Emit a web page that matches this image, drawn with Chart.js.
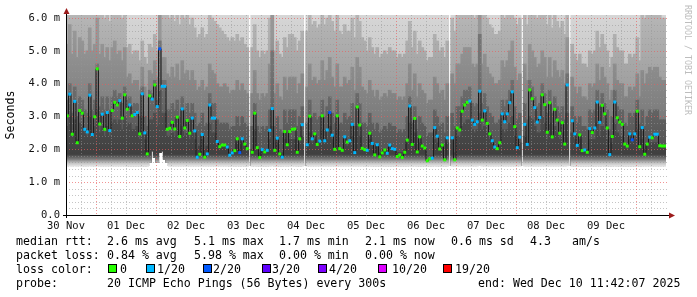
<!DOCTYPE html>
<html>
<head>
<meta charset="utf-8">
<script src="https://cdn.jsdelivr.net/npm/chart.js@4.4.0/dist/chart.umd.min.js"></script>
<style>
    html, body { margin: 0; padding: 0; background: #fff; }
    #wrap { width: 697px; height: 297px; }
</style>
</head>
<body>
<div id="wrap"><canvas id="smoke" width="697" height="297"></canvas></div>
<script>
// x = hours since 30 Nov 12:00, one column per hour (240 columns)
const dayLabels = ['30 Nov', '01 Dec', '02 Dec', '03 Dec', '04 Dec', '05 Dec', '06 Dec', '07 Dec', '08 Dec', '09 Dec'];
const yTicks = [0, 1, 2, 3, 4, 5, 6];

// median rtt (ms), null = no data
const medianRtt = [
    3.02,3.68,2.46,3.46,2.20,3.18,3.10,2.61,2.53,3.65,
    2.45,2.99,4.45,2.77,3.07,2.61,3.12,2.57,3.18,3.43,
    3.35,3.48,2.95,3.66,3.22,3.35,3.02,3.06,3.12,2.47,
    3.69,2.50,1.86,3.63,3.53,3.96,3.30,5.06,3.92,3.92,
    2.61,2.64,2.82,2.62,2.98,2.39,3.23,2.65,2.88,2.49,
    2.95,2.56,1.76,1.85,2.45,1.76,1.86,3.35,2.95,2.95,
    2.24,2.08,2.13,2.13,2.07,1.82,1.89,1.96,2.32,1.90,
    2.32,2.16,2.02,null,1.91,3.10,2.05,1.75,1.99,1.92,
    1.97,2.58,3.24,1.97,2.34,1.86,1.76,2.54,2.14,2.54,
    2.61,2.62,1.91,2.32,2.75,null,2.14,3.01,2.32,2.47,
    2.15,2.25,3.02,2.26,2.59,3.12,2.43,2.00,3.02,2.02,
    1.97,2.38,2.22,2.26,2.76,1.90,3.29,2.74,2.03,1.99,
    1.97,2.49,2.18,1.83,2.14,1.77,1.89,1.98,1.88,2.13,
    2.02,2.00,1.78,1.83,1.75,1.91,2.28,3.32,2.15,2.94,
    1.92,2.38,2.10,2.04,1.65,1.71,1.73,2.66,2.40,2.01,
    2.13,1.68,2.35,null,2.35,1.68,2.65,2.59,3.16,3.35,
    3.43,3.47,2.89,2.76,2.84,3.77,2.89,3.17,2.79,2.47,
    2.26,2.07,2.02,2.20,3.08,2.84,3.08,3.42,3.75,2.69,
    2.05,2.37,null,2.76,2.15,3.81,3.54,3.27,2.83,2.97,
    3.66,3.36,2.52,3.42,2.38,3.22,2.89,2.49,2.81,2.16,
    3.96,null,2.87,2.47,2.12,2.44,1.96,1.98,1.91,2.63,
    2.51,2.65,3.44,2.82,3.34,3.08,2.65,1.84,2.39,3.44,
    2.96,2.83,2.76,2.16,2.10,2.47,2.29,2.47,3.16,2.08,
    2.66,1.85,2.16,2.37,2.35,2.46,2.46,2.11,2.10,2.10
];

// lost pings out of 20 per column
const lostPings = [
    0,1,0,1,0,0,0,1,1,1, 1,0,0,0,1,0,1,1,0,0, 0,1,0,0,0,1,0,1,1,0,
    1,1,0,0,1,0,1,2,1,1, 0,0,0,0,0,0,1,0,0,0, 1,1,1,0,1,0,1,1,1,1,
    1,0,0,0,1,1,1,0,0,2, 1,0,0,0,0,0,0,0,1,0, 1,1,1,0,1,0,1,0,0,0,
    0,0,0,0,1,0,1,0,1,0, 0,1,0,1,1,2,1,0,0,0, 0,1,0,1,1,1,0,0,0,0,
    1,0,1,0,1,0,0,0,1,1, 1,1,0,0,0,0,0,1,0,0, 0,0,0,0,0,0,1,1,1,0,
    0,0,1,0,1,0,0,0,0,0, 0,1,1,1,1,1,0,1,0,0, 1,1,0,0,1,1,1,1,1,0,
    1,1,0,1,1,0,0,1,1,1, 0,0,0,0,0,0,0,0,0,0, 1,0,1,1,1,0,0,1,0,1,
    0,1,1,1,0,0,0,1,0,1, 0,0,0,0,0,1,2,1,0,0, 1,0,0,1,0,1,1,0,0,0
];

// smoke: lowest ping and tops of the shaded bands (ms)
const smokeLo = [
    1.5,1.5,1.5,1.5,1.5,1.5,1.5,1.5,1.5,1.5, 1.5,1.5,1.5,1.5,1.5,1.5,1.5,1.5,1.5,1.5,
    1.5,1.5,1.5,1.5,1.5,1.5,1.5,1.5,1.5,1.5, 1.5,1.5,1.5,1.6,1.95,1.75,1.6,1.9,1.95,1.7,
    1.6,1.5,1.5,1.5,1.5,1.5,1.5,1.5,1.5,1.5, 1.5,1.5,1.5,1.5,1.5,1.5,1.5,1.5,1.5,1.5,
    1.5,1.5,1.5,1.5,1.5,1.5,1.5,1.5,1.5,1.5, 1.5,1.5,1.5,null,1.5,1.5,1.5,1.5,1.5,1.5,
    1.5,1.5,1.5,1.5,1.5,1.5,1.5,1.5,1.5,1.5, 1.5,1.5,1.5,1.5,1.5,null,1.5,1.5,1.5,1.5,
    1.5,1.5,1.5,1.5,1.5,1.5,1.5,1.5,1.5,1.5, 1.5,1.5,1.5,1.5,1.5,1.5,1.5,1.5,1.5,1.5,
    1.5,1.5,1.5,1.5,1.5,1.5,1.5,1.5,1.5,1.5, 1.5,1.5,1.5,1.5,1.5,1.5,1.5,1.5,1.5,1.5,
    1.5,1.5,1.5,1.5,1.5,1.5,1.5,1.5,1.5,1.5, 1.5,1.5,1.5,null,1.5,1.5,1.5,1.5,1.5,1.5,
    1.5,1.5,1.5,1.5,1.5,1.5,1.5,1.5,1.5,1.5, 1.5,1.5,1.5,1.5,1.5,1.5,1.5,1.5,1.5,1.5,
    1.5,1.5,null,1.5,1.5,1.5,1.5,1.5,1.5,1.5, 1.5,1.5,1.5,1.5,1.5,1.5,1.5,1.5,1.5,1.5,
    1.5,null,1.5,1.5,1.5,1.5,1.5,1.5,1.5,1.5, 1.5,1.5,1.5,1.5,1.5,1.5,1.5,1.5,1.5,1.5,
    1.5,1.5,1.5,1.5,1.5,1.5,1.5,1.5,1.5,1.5, 1.5,1.5,1.5,1.5,1.5,1.5,1.5,1.5,1.5,1.5
];
const smokeCore = [
    2.7,3.0,2.4,2.9,2.3,2.8,2.7,2.5,2.4,3.0, 2.4,2.7,3.2,2.5,2.7,2.4,2.7,2.4,2.8,2.9,
    2.8,2.9,2.6,3.0,2.7,2.8,2.6,2.6,2.7,2.3, 3.0,2.3,2.0,2.9,2.9,3.1,2.7,3.8,3.1,3.1,
    2.4,2.4,2.5,2.4,2.6,2.3,2.7,2.4,2.5,2.3, 2.5,2.3,2.0,2.1,2.3,2.0,2.1,2.8,2.5,2.5,
    2.2,2.1,2.1,2.1,2.1,1.9,2.0,2.0,2.2,2.0, 2.2,2.1,2.0,null,2.0,2.6,2.0,1.9,2.0,2.0,
    2.0,2.3,2.7,2.0,2.2,1.9,1.9,2.3,2.1,2.3, 2.3,2.3,2.0,2.2,2.4,null,2.1,2.5,2.2,2.3,
    2.1,2.2,2.6,2.2,2.3,2.7,2.3,2.0,2.6,2.0, 2.0,2.2,2.1,2.2,2.4,2.0,2.7,2.4,2.0,2.0,
    2.0,2.3,2.1,1.9,2.1,1.9,2.0,2.0,1.9,2.1, 2.0,2.0,1.9,1.9,1.9,2.0,2.2,2.8,2.1,2.5,
    2.0,2.2,2.1,2.0,1.8,1.8,1.8,2.3,2.2,2.0, 2.1,1.8,2.2,null,2.3,1.9,2.4,2.4,2.7,2.8,
    2.9,2.9,2.6,2.5,2.6,3.1,2.6,2.7,2.5,2.3, 2.2,2.1,2.0,2.1,2.6,2.5,2.6,2.8,3.0,2.4,
    2.1,2.2,null,2.4,2.1,3.0,2.9,2.7,2.5,2.5, 3.0,2.8,2.3,2.8,2.3,2.7,2.5,2.3,2.5,2.1,
    3.1,null,2.5,2.3,2.1,2.3,2.0,2.0,2.0,2.3, 2.3,2.3,2.8,2.4,2.7,2.6,2.3,1.9,2.2,2.8,
    2.5,2.4,2.4,2.1,2.0,2.3,2.2,2.3,2.6,2.1, 2.3,2.0,2.1,2.2,2.2,2.2,2.2,2.1,2.1,2.1
];
const smokeDark = [
    3.5,4.0,3.1,3.9,3.0,3.6,3.5,3.2,3.1,4.0, 3.2,3.5,4.6,3.3,3.6,3.2,3.6,3.2,3.6,3.8,
    3.6,3.7,3.4,3.9,3.5,3.6,3.3,3.4,3.4,3.0, 3.9,3.0,2.7,3.8,3.7,4.1,3.5,5.3,4.1,4.1,
    3.2,3.2,3.4,3.2,3.5,3.0,3.6,3.2,3.4,3.1, 3.4,3.1,2.7,2.8,3.1,2.7,2.8,3.7,3.4,3.4,
    2.9,2.8,2.8,2.8,2.8,2.6,2.7,2.7,3.0,2.7, 3.0,2.8,2.7,null,2.7,3.4,2.7,2.5,2.7,2.6,
    2.7,3.2,5.0,2.7,3.0,2.6,2.5,3.2,2.8,3.2, 3.2,3.2,2.7,3.0,3.3,null,2.8,3.5,3.0,3.1,
    2.9,3.0,3.5,3.0,3.3,3.6,3.1,2.8,3.5,2.8, 2.8,3.1,2.9,3.0,3.4,2.7,3.7,3.4,2.8,2.8,
    2.7,3.1,2.8,2.6,2.8,2.5,2.6,2.7,2.6,2.8, 2.7,2.7,2.5,2.6,2.5,2.6,3.0,3.6,2.8,3.3,
    2.6,3.0,2.8,2.7,2.4,2.5,2.5,3.2,3.0,2.7, 2.8,2.5,3.0,null,3.1,2.7,3.3,3.3,3.6,3.8,
    3.8,3.9,3.4,3.3,3.4,5.5,3.4,3.7,3.3,3.1, 3.0,2.8,2.8,2.9,3.5,3.3,3.5,3.8,4.1,3.3,
    2.9,3.1,null,3.4,2.9,4.1,3.9,3.6,3.3,3.4, 4.0,3.7,3.1,3.8,3.1,3.6,3.3,3.1,3.3,2.9,
    4.3,null,3.3,3.0,2.8,3.0,2.7,2.7,2.6,3.2, 3.1,3.2,3.8,3.3,3.7,3.4,3.2,2.6,3.0,3.8,
    3.3,3.2,3.2,2.8,2.7,3.1,3.0,3.1,3.5,2.8, 3.2,2.7,3.0,3.2,3.1,3.2,3.2,2.9,2.9,2.9
];
const smokeMid = [
    5.2,5.8,4.9,5.6,4.8,5.4,5.3,4.9,5.0,5.7, 5.0,5.2,6.0,4.9,5.2,4.8,5.1,4.7,5.1,5.3,
    4.9,5.0,4.7,5.1,4.2,4.3,4.0,4.1,4.1,3.8, 4.5,3.9,3.6,4.4,4.3,4.7,4.2,6.5,4.8,4.8,
    4.3,4.2,4.5,4.2,4.6,4.1,4.7,4.3,4.4,4.1, 4.4,4.1,3.8,3.9,4.1,3.8,3.9,4.6,4.4,4.3,
    4.0,3.9,3.9,4.0,3.9,3.7,3.8,3.8,4.1,3.8, 4.0,3.8,3.7,null,3.7,4.4,3.7,3.5,3.7,3.6,
    3.7,4.6,6.5,3.7,4.0,3.6,3.5,4.2,3.8,4.2, 4.2,4.2,3.7,4.0,4.3,null,3.9,4.6,4.1,4.2,
    4.0,4.1,4.7,4.1,4.4,4.8,4.2,3.9,4.6,3.9, 3.9,4.2,4.0,4.1,4.5,3.8,4.8,4.5,3.9,3.8,
    3.7,4.1,3.8,3.6,3.8,3.5,3.6,3.7,3.6,3.8, 3.7,3.7,3.5,3.6,3.5,3.6,4.0,4.6,3.8,4.3,
    3.6,4.0,3.8,3.7,3.4,3.5,3.5,4.2,4.0,3.7, 3.8,3.5,4.0,null,4.3,4.0,4.6,4.6,4.9,5.1,
    5.1,5.1,4.6,4.5,4.6,6.5,4.6,4.9,4.5,4.3, 4.2,4.0,4.0,4.1,4.7,4.5,4.7,5.0,5.3,4.5,
    4.1,4.3,null,4.6,4.1,5.2,5.0,4.8,4.5,4.6, 5.0,4.8,4.2,4.8,4.2,4.7,4.4,4.2,4.4,4.0,
    5.4,null,4.2,3.9,3.7,3.9,3.6,3.6,3.5,4.0, 3.9,4.0,4.6,4.1,4.5,4.2,4.0,3.5,3.8,4.6,
    4.1,4.0,4.0,3.6,3.6,3.9,3.8,3.9,4.3,3.6, 4.4,4.0,4.3,4.5,4.4,4.5,4.5,4.2,4.1,4.1
];
const smokeHigh = [
    6.5,6.5,6.5,6.5,6.5,6.5,6.5,6.5,6.5,6.5, 6.5,6.5,6.5,6.2,6.5,6.0,6.3,5.9,6.3,6.5,
    6.2,6.3,6.0,6.4,5.1,5.2,4.9,5.0,5.0,4.7, 5.3,4.8,4.6,5.2,5.1,5.5,5.0,6.5,6.3,6.3,
    6.2,6.0,6.3,5.9,6.4,5.8,6.5,6.0,6.2,5.8, 6.0,5.7,5.4,5.5,5.7,5.4,5.5,6.2,6.0,5.9,
    5.8,5.7,5.6,5.5,5.4,5.3,5.4,5.3,5.5,5.3, 5.4,5.2,5.1,null,5.1,5.8,5.0,4.8,5.0,4.9,
    5.0,6.0,6.5,5.0,5.3,4.9,4.8,5.4,5.1,5.5, 5.5,5.4,5.0,5.3,5.6,null,5.6,6.1,5.8,5.9,
    5.7,5.8,6.3,5.8,6.0,6.5,5.9,5.6,6.2,5.6, 5.5,5.8,5.6,5.6,6.0,5.4,6.2,5.9,5.4,5.3,
    5.0,5.4,5.1,4.9,5.1,4.8,4.9,5.0,4.9,5.1, 5.0,5.0,4.8,4.9,4.8,4.9,5.3,5.9,5.1,5.6,
    4.9,5.3,5.1,5.0,4.7,4.8,4.8,5.5,5.3,5.0, 5.1,4.8,5.3,null,6.0,5.6,6.3,6.2,6.5,6.5,
    6.5,6.5,6.2,6.0,6.1,6.5,6.1,6.4,6.0,5.8, 5.7,5.5,5.5,5.6,6.2,6.0,6.2,6.5,6.5,6.0,
    5.8,6.0,null,6.2,5.8,6.5,6.5,6.3,6.0,6.1, 6.4,6.2,5.8,6.2,5.7,6.1,5.9,5.7,5.9,5.5,
    6.5,null,5.2,4.9,4.7,4.9,4.6,4.6,4.5,5.0, 4.9,5.0,5.6,5.1,5.5,5.2,5.0,4.5,4.8,5.5,
    5.1,5.0,5.0,4.6,4.6,4.9,4.8,4.9,5.4,4.7, 6.3,6.0,6.3,6.5,6.4,6.5,6.5,6.2,6.0,6.0
];
const smokeMax = 6.5; // slowest pings are above the top of the graph

// loss colour legend
const lossSteps = [0, 1, 2, 3, 4, 10, 19];
const lossColors = { 0: '#26ff00', 1: '#00b8ff', 2: '#0059ff', 3: '#5e00ff', 4: '#7e00ff', 10: '#dd00ff', 19: '#ff0000' };

// legend texts
const rttStats = ['2.6 ms avg', '5.1 ms max', '1.7 ms min', '2.1 ms now', '0.6 ms sd', '4.3', 'am/s'];
const lossStats = ['0.84 % avg', '5.98 % max', '0.00 % min', '0.00 % now'];
const probeText = '20 ICMP Echo Pings (56 Bytes) every 300s';
const endText = 'end: Wed Dec 10 11:42:07 2025';

const MONO = '"DejaVu Sans Mono", "Liberation Mono", monospace';
const CORE_INDEX = 4;

// vertical shading per band: [ms, colour] stops
const bandShades = {
    top:  [[6.1, '#d6d6d6'], [3.0, '#bababa']],
    high: [[6.1, '#b6b6b6'], [3.0, '#969696']],
    mid:  [[5.5, '#979797'], [2.5, '#777777']],
    dark: [[4.5, '#747474'], [2.2, '#565656']],
    core: [[3.2, '#505050'], [1.85, '#404040'], [1.7, '#7c7c7c'], [1.58, '#c4c4c4'], [1.45, '#f2f2f2']]
};
const gradCache = {};
function shade(name) {
    return (ctx) => {
        const chart = ctx.chart;
        const ys = chart.scales.y;
        const stops = bandShades[name];
        if (!chart.chartArea || !ys) return stops[0][1];
        if (!gradCache[name]) {
            const y0 = ys.getPixelForValue(stops[0][0]);
            const y1 = ys.getPixelForValue(stops[stops.length - 1][0]);
            const g = chart.ctx.createLinearGradient(0, y0, 0, y1);
            stops.forEach(([v, c]) => g.addColorStop((ys.getPixelForValue(v) - y0) / (y1 - y0), c));
            gradCache[name] = g;
        }
        return gradCache[name];
    };
}

// floating bars for one band of the smoke
function smokeBand(tops, name, order) {
    const pts = [];
    smokeLo.forEach((lo, i) => {
        const top = Array.isArray(tops) ? tops[i] : tops;
        if (lo === null || top === null) return;
        pts.push({ x: i + 0.5, y: [lo, top] });
    });
    return {
        type: 'bar',
        data: pts,
        backgroundColor: shade(name),
        borderWidth: 0,
        barThickness: 3,
        grouped: false,
        order: order
    };
}

function hLine(ctx, y, x0, x1) {
    ctx.beginPath(); ctx.moveTo(x0, y); ctx.lineTo(x1, y); ctx.stroke();
}
function vLine(ctx, x, y0, y1) {
    ctx.beginPath(); ctx.moveTo(x, y0); ctx.lineTo(x, y1); ctx.stroke();
}

const rrdPlugin = {
    id: 'rrdLook',
    afterDatasetDraw(chart, args) {
        if (args.index !== CORE_INDEX) return;
        // dotted grid over the smoke
        const { ctx, chartArea: a, scales: { x, y } } = chart;
        ctx.save();
        ctx.lineWidth = 1;
        ctx.setLineDash([1, 2]);
        for (let k = 1; k <= 30; k++) {
            const major = k % 5 === 0;
            ctx.strokeStyle = major ? 'rgba(235,90,90,0.65)' : 'rgba(150,150,150,0.55)';
            hLine(ctx, Math.round(y.getPixelForValue(k / 5)) + 0.5, a.left, a.right + 3);
        }
        for (let h = 6; h < 240; h += 6) {
            const major = (h - 12) % 24 === 0;
            ctx.strokeStyle = major ? 'rgba(235,90,90,0.65)' : 'rgba(150,150,150,0.55)';
            vLine(ctx, Math.round(x.getPixelForValue(h)) + 0.5, a.top, a.bottom);
        }
        ctx.restore();
    },
    afterDraw(chart) {
        const { ctx, chartArea: a } = chart;
        ctx.save();
        // axes
        ctx.strokeStyle = '#000';
        ctx.lineWidth = 1;
        hLine(ctx, a.bottom + 0.5, a.left - 3, a.right + 4);
        vLine(ctx, a.left + 0.5, a.top - 2, a.bottom + 3);
        // arrows
        ctx.fillStyle = '#9c1c1c';
        ctx.beginPath();
        ctx.moveTo(a.left + 0.5, a.top - 7);
        ctx.lineTo(a.left - 2.5, a.top - 1);
        ctx.lineTo(a.left + 3.5, a.top - 1);
        ctx.closePath(); ctx.fill();
        ctx.beginPath();
        ctx.moveTo(a.right + 9, a.bottom + 0.5);
        ctx.lineTo(a.right + 3, a.bottom - 2.5);
        ctx.lineTo(a.right + 3, a.bottom + 3.5);
        ctx.closePath(); ctx.fill();

        // vertical titles
        ctx.fillStyle = '#000';
        ctx.font = '11.6px ' + MONO;
        ctx.textAlign = 'center';
        ctx.textBaseline = 'middle';
        ctx.save();
        ctx.translate(11, 115);
        ctx.rotate(-Math.PI / 2);
        ctx.fillText('Seconds', 0, 0);
        ctx.restore();

        ctx.save();
        ctx.fillStyle = '#bdbdbd';
        ctx.font = '8.3px ' + MONO;
        ctx.textAlign = 'left';
        ctx.translate(687, 5);
        ctx.rotate(Math.PI / 2);
        ctx.fillText('RRDTOOL / TOBI OETIKER', 0, 0);
        ctx.restore();

        // legend block
        ctx.font = '11.6px ' + MONO;
        ctx.textAlign = 'left';
        ctx.textBaseline = 'alphabetic';
        ctx.fillStyle = '#000';
        const rttX = [107, 194, 279, 365, 451, 530, 572];
        ctx.fillText('median rtt:', 16, 245);
        rttStats.forEach((t, i) => ctx.fillText(t, rttX[i], 245));
        ctx.fillText('packet loss:', 16, 259);
        lossStats.forEach((t, i) => ctx.fillText(t, rttX[i], 259));
        ctx.fillText('loss color:', 16, 273);
        const boxX = [108, 146, 203, 262, 318, 378, 443];
        const txtX = [120, 157, 213, 272, 329, 392, 455];
        lossSteps.forEach((n, i) => {
            ctx.fillStyle = lossColors[n];
            ctx.fillRect(boxX[i], 264.5, 8, 8);
            ctx.strokeStyle = '#000';
            ctx.setLineDash([]);
            ctx.strokeRect(boxX[i] + 0.5, 264.5, 8, 8);
            ctx.fillStyle = '#000';
            ctx.fillText(n === 0 ? '0' : n + '/20', txtX[i], 273);
        });
        ctx.fillText('probe:', 16, 287);
        ctx.fillText(probeText, 107, 287);
        ctx.fillText(endText, 478, 287);
        ctx.restore();
    }
};

const medianPts = medianRtt.map((v, i) => ({ x: i + 0.5, y: v }));

new Chart(document.getElementById('smoke'), {
    data: {
        datasets: [
            smokeBand(smokeMax, 'top', 6),
            smokeBand(smokeHigh, 'high', 5),
            smokeBand(smokeMid, 'mid', 4),
            smokeBand(smokeDark, 'dark', 3),
            smokeBand(smokeCore, 'core', 2),
            {
                type: 'line',
                data: medianPts,
                stepped: 'middle',
                spanGaps: false,
                borderColor: '#1c1c1c',
                borderWidth: 1,
                pointStyle: 'rect',
                pointRadius: 2.1,
                pointBorderWidth: 0,
                pointBackgroundColor: lostPings.map(n => lossColors[n]),
                order: 1
            }
        ]
    },
    options: {
        responsive: false,
        animation: false,
        devicePixelRatio: 1,
        events: [],
        layout: { padding: { left: 0, right: 31, top: 15, bottom: 0 } },
        plugins: { legend: { display: false }, tooltip: { enabled: false } },
        scales: {
            x: {
                type: 'linear',
                min: 0,
                max: 240,
                offset: false,
                grid: { display: false, drawTicks: false, offset: false },
                border: { display: false },
                afterBuildTicks: axis => { axis.ticks = dayLabels.map((_, k) => ({ value: k * 24 })); },
                afterFit: axis => { axis.height = 82; },
                ticks: {
                    autoSkip: false,
                    maxRotation: 0,
                    padding: 5,
                    color: '#111',
                    font: { family: MONO, size: 10.5 },
                    callback: (v, i) => dayLabels[i]
                }
            },
            y: {
                type: 'linear',
                min: 0,
                max: 6.09,
                grid: { display: false, drawTicks: false },
                border: { display: false },
                afterBuildTicks: axis => { axis.ticks = yTicks.map(v => ({ value: v })); },
                afterFit: axis => { axis.width = 66; },
                ticks: {
                    padding: 6,
                    color: '#111',
                    font: { family: MONO, size: 10.5 },
                    callback: v => v === 0 ? '0.0' : v.toFixed(1) + ' m'
                }
            }
        }
    },
    plugins: [rrdPlugin]
});
</script>
</body>
</html>
